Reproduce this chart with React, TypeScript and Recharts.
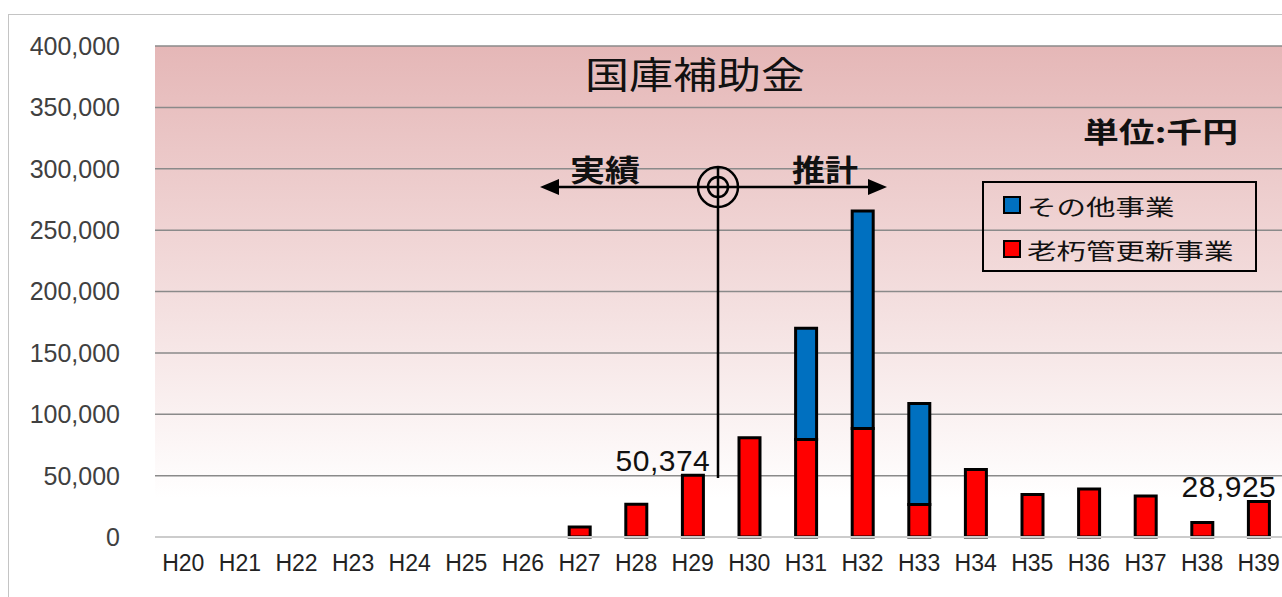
import { BarChart, Bar, XAxis, YAxis, CartesianGrid, Legend, LabelList } from "recharts";

// 年度 (平成)
const years = [
    "H20", "H21", "H22", "H23", "H24", "H25", "H26", "H27", "H28", "H29",
    "H30", "H31", "H32", "H33", "H34", "H35", "H36", "H37", "H38", "H39",
];

// 老朽管更新事業 (千円)
const renewal: (number | null)[] = [
    null, null, null, null, null, null, null, 8200, 26700, 50374,
    80800, 79400, 88400, 26400, 55000, 34600, 39200, 33500, 11800, 28925,
];

// その他事業 (千円)
const other: (number | null)[] = [
    null, null, null, null, null, null, null, null, null, null,
    null, 90600, 177200, 82400, null, null, null, null, null, null,
];

const yTicks = [0, 50000, 100000, 150000, 200000, 250000, 300000, 350000, 400000];

// 金額を表示する年度
const labelledYears = ["H29", "H39"];

// 凡例の並び順 (上から)
const legendOrder = ["その他事業", "老朽管更新事業"];

const data = years.map((year, i) => ({
    year,
    renewal: renewal[i],
    other: other[i],
    label: labelledYears.includes(year) ? renewal[i] : null,
}));

const CJK = '"Noto Sans CJK JP", "Noto Sans", sans-serif';
const LATIN = '"Liberation Sans", Arial, sans-serif';

const fmt = (v: number) => v.toLocaleString("en-US");

const ValueLabel = (props: any) => {
    const { x, y, width, value } = props;
    if (value == null) return null;
    return (
        <text
            x={x + width / 2 - 30}
            y={y - 15}
            textAnchor="middle"
            dominantBaseline="central"
            fontFamily={LATIN}
            fontSize={30}
            letterSpacing={0.5}
            fill="#111"
        >
            {fmt(value)}
        </text>
    );
};

const LegendBox = ({ payload }: any) => {
    const rows = [...(payload || [])].sort(
        (a: any, b: any) => legendOrder.indexOf(a.value) - legendOrder.indexOf(b.value)
    );
    return (
        <div
            style={{
                width: 275,
                height: 91,
                boxSizing: "border-box",
                border: "2px solid #000",
            }}
        >
            {rows.map((entry: any) => (
                <div key={entry.value} style={{ display: "flex", alignItems: "center", height: 44 }}>
                    <span
                        style={{
                            display: "inline-block",
                            width: 14,
                            height: 14,
                            marginLeft: 19,
                            marginRight: 6,
                            border: "2px solid #000",
                            background: entry.color,
                        }}
                    />
                    <span
                        style={{
                            display: "inline-block",
                            fontFamily: CJK,
                            fontSize: 22,
                            color: "#111",
                            whiteSpace: "nowrap",
                            transform: "scaleX(1.34)",
                            transformOrigin: "left center",
                        }}
                    >
                        {entry.value}
                    </span>
                </div>
            ))}
        </div>
    );
};

export default function App() {
    return (
        <div style={{ position: "fixed", left: 0, top: 0, width: 1282, height: 597, overflow: "hidden", background: "#fff" }}>
            <div
                style={{
                    position: "absolute",
                    left: 8,
                    top: 14,
                    width: 1320,
                    height: 600,
                    border: "1px solid #c4c4c4",
                    background: "#fff",
                }}
            >
                <BarChart width={1318} height={598} data={data} margin={{ top: 31, right: 40, left: 0, bottom: 36 }}>
                    <defs>
                        <linearGradient id="plotBg" x1="0" y1="0" x2="0" y2="1">
                            <stop offset="0%" stopColor="#e5b7b7" />
                            <stop offset="50%" stopColor="#f3dddd" />
                            <stop offset="92%" stopColor="#ffffff" />
                        </linearGradient>
                    </defs>
                    <CartesianGrid vertical={false} stroke="#8a8a8a" strokeWidth={1.5} fill="url(#plotBg)" fillOpacity={1} />
                    <XAxis
                        dataKey="year"
                        interval={0}
                        height={40}
                        tickSize={0}
                        tickMargin={18}
                        tickLine={false}
                        axisLine={{ stroke: "#cccccc", strokeWidth: 2 }}
                        tick={{ fontFamily: LATIN, fontSize: 23, fill: "#222" }}
                    />
                    <YAxis
                        width={146}
                        domain={[0, 400000]}
                        ticks={yTicks}
                        tickFormatter={fmt}
                        axisLine={false}
                        tickLine={false}
                        tickSize={0}
                        tickMargin={35}
                        tick={{ fontFamily: LATIN, fontSize: 25, fill: "#404040" }}
                    />
                    <Legend
                        layout="vertical"
                        align="center"
                        verticalAlign="middle"
                        content={<LegendBox />}
                        wrapperStyle={{ left: 973, top: 166, width: 275, height: 91 }}
                    />
                    <Bar
                        dataKey="renewal"
                        name="老朽管更新事業"
                        stackId="a"
                        fill="#ff0000"
                        stroke="#000"
                        strokeWidth={3}
                        barSize={21}
                        isAnimationActive={false}
                    >
                        <LabelList dataKey="label" content={<ValueLabel />} />
                    </Bar>
                    <Bar
                        dataKey="other"
                        name="その他事業"
                        stackId="a"
                        fill="#0070c0"
                        stroke="#000"
                        strokeWidth={3}
                        barSize={21}
                        isAnimationActive={false}
                    />
                </BarChart>
            </div>

            {/* 表題・単位・実績/推計の境界 */}
            <svg
                width={1282}
                height={597}
                style={{ position: "absolute", left: 0, top: 0, pointerEvents: "none" }}
            >
                <text x={585} y={73} dominantBaseline="central" fontFamily={CJK} fontSize={37} fill="#111" textLength={220} lengthAdjust="spacingAndGlyphs">
                    国庫補助金
                </text>
                <text x={1083} y={131} dominantBaseline="central" fontFamily={CJK} fontWeight="bold" fontSize={28} fill="#111" textLength={155} lengthAdjust="spacingAndGlyphs">
                    単位:千円
                </text>
                <text x={570} y={168} dominantBaseline="central" fontFamily={CJK} fontWeight="bold" fontSize={30} fill="#111" textLength={70} lengthAdjust="spacingAndGlyphs">
                    実績
                </text>
                <text x={792} y={168} dominantBaseline="central" fontFamily={CJK} fontWeight="bold" fontSize={30} fill="#111" textLength={66} lengthAdjust="spacingAndGlyphs">
                    推計
                </text>
                <g stroke="#000" strokeWidth={2.5} fill="none">
                    <line x1={556} y1={187} x2={871} y2={187} />
                    <line x1={718} y1={167} x2={718} y2={478} />
                    <circle cx={718} cy={187} r={20} />
                    <circle cx={718} cy={187} r={10} />
                </g>
                <polygon points="540,187 559,179 559,195" fill="#000" />
                <polygon points="887,187 868,179 868,195" fill="#000" />
            </svg>
        </div>
    );
}
